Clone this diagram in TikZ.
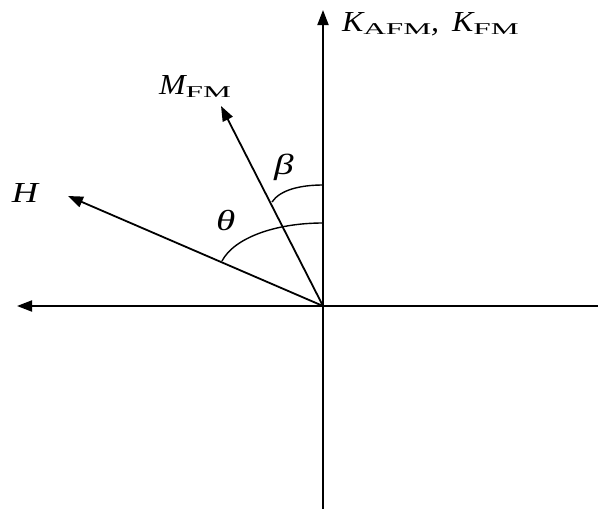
\documentclass[tikz,border=0pt]{standalone}
\usepackage{fontspec}
\setmainfont{Liberation Serif}
\usetikzlibrary{arrows.meta}
\newcommand\mainl[2][1.2]{\scalebox{#1}[1]{\fontsize{29}{29}\selectfont\itshape #2}}
\newcommand\subl[1]{\raisebox{-3pt}{\scalebox{1.9}[1]{\fontsize{16.5}{16.5}\selectfont #1}}}
\tikzset{
  axis/.style={line width=1.8pt, draw=black},
  vec/.style={line width=1.8pt, draw=black, -{Triangle[length=15pt,width=11pt]}},
  anglearc/.style={line width=1.4pt, draw=black},
  lbl/.style={anchor=base west, inner sep=0pt, outer sep=0pt}
}
\begin{document}
\begin{tikzpicture}[x=1pt,y=-1pt]
\useasboundingbox (0,0) rectangle (598,509);
\coordinate (O) at (323,306);
\coordinate (top) at (323,10);
\coordinate (bottom) at (323,509);
\coordinate (left) at (17,306);
\coordinate (right) at (598,306);
\coordinate (Mtip) at (221,106);
\coordinate (Htip) at (68,196);
\coordinate (bv) at (323,185);
\coordinate (bm) at (272,202);
\coordinate (tv) at (323,223);
\coordinate (th) at (222,261);
% axes
\draw[axis] (bottom) -- (O);
\draw[vec] (O) -- (top);
\draw[axis] (right) -- (O);
\draw[vec] (O) -- (left);
% vectors
\draw[vec] (O) -- (Mtip);
\draw[vec] (O) -- (Htip);
% angle arcs
\draw[anglearc] (bv) .. controls (300,185) and (280,190) .. (bm);
\draw[anglearc] (tv) .. controls (275,223) and (234,238) .. (th);
% labels
\node[lbl] (kl) at (342,31) {\mainl[1.1]{K}\subl{AFM}\mainl[1.1]{,}\hspace{13pt}\mainl[1.1]{K}\subl{FM}};
\node[lbl] (ml) at (159,94) {\mainl[1.1]{M}\subl{FM}};
\node[lbl] (hl) at (12,202) {\mainl[1.25]{H}};
\node[lbl] (bl) at (274,174) {\mainl[1.35]{β}};
\node[lbl] (tl) at (216,230) {\mainl[1.35]{θ}};
\end{tikzpicture}
\end{document}
